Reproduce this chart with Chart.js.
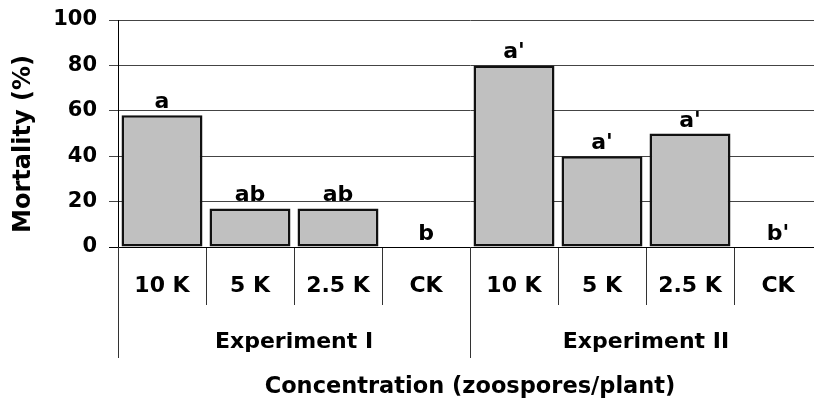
<!DOCTYPE html>
<html>
<head>
<meta charset="utf-8">
<script src="https://cdn.jsdelivr.net/npm/chart.js@4"></script>
<style>
  html, body { margin: 0; padding: 0; overflow: hidden; background: #fff; }
  #wrap { width: 822px; height: 409px; }
</style>
</head>
<body>
<div id="wrap"><canvas id="grafico" width="822" height="409"></canvas></div>
<script>
// Dados do gráfico
const categorias = ['10 K', '5 K', '2.5 K', 'CK', '10 K', '5 K', '2.5 K', 'CK'];
const mortalidade = [58, 17, 17, 0, 80, 40, 50, 0];
const letras = ['a', 'ab', 'ab', 'b', "a'", "a'", "a'", "b'"];
const grupos = ['Experiment I', 'Experiment II'];
const porGrupo = 4;
const ticksY = [0, 20, 40, 60, 80, 100];

const fonte = "'DejaVu Sans', sans-serif";

// Plugin para letras, separadores de grupo e título do eixo Y
const extras = {
    id: 'extras',
    afterDatasetsDraw(chart) {
        const ctx = chart.ctx;
        const x = chart.scales.x;
        const meta = chart.getDatasetMeta(0);
        ctx.save();
        ctx.fillStyle = '#000';
        ctx.font = `bold 22px ${fonte}`;
        ctx.textAlign = 'center';
        ctx.textBaseline = 'alphabetic';
        meta.data.forEach((bar, i) => {
            ctx.fillText(letras[i], bar.x, bar.y - 7);
        });

        // linhas que separam os grupos
        const meia = (x.getPixelForTick(1) - x.getPixelForTick(0)) / 2;
        ctx.strokeStyle = '#333';
        ctx.lineWidth = 1;
        for (let g = 0; g <= grupos.length; g++) {
            const px = Math.round(x.getPixelForTick(g * porGrupo) - meia) + 0.5;
            ctx.beginPath();
            ctx.moveTo(px, x.top);
            ctx.lineTo(px, 358);
            ctx.stroke();
        }
        ctx.textBaseline = 'middle';
        grupos.forEach((nome, g) => {
            const a = x.getPixelForTick(g * porGrupo);
            const b = x.getPixelForTick(g * porGrupo + porGrupo - 1);
            ctx.fillText(nome, (a + b) / 2, 342);
        });

        // título do eixo Y
        ctx.font = `bold 24px ${fonte}`;
        ctx.translate(24, 144);
        ctx.rotate(-Math.PI / 2);
        ctx.fillText('Mortality (%)', 0, 0);
        ctx.restore();
    }
};

const ctx1 = document.getElementById('grafico').getContext('2d');
const grafico = new Chart(ctx1, {
    type: 'bar',
    data: {
        labels: categorias,
        datasets: [{
            label: 'Mortality',
            data: mortalidade,
            backgroundColor: '#c0c0c0',
            borderColor: '#111',
            borderWidth: 2.5,
            borderSkipped: false,
            categoryPercentage: 1,
            barPercentage: 0.92
        }]
    },
    options: {
        responsive: false,
        animation: false,
        layout: { padding: { top: 20, right: 0, left: 0, bottom: 0 } },
        plugins: { legend: { display: false }, tooltip: { enabled: false } },
        scales: {
            x: {
                grid: {
                    drawOnChartArea: false,
                    tickLength: 58,
                    color: '#333'
                },
                border: { color: '#000', width: 1 },
                ticks: {
                    color: '#000',
                    font: { family: fonte, weight: 'bold', size: 22 },
                    padding: -32,
                    maxRotation: 0
                },
                title: {
                    display: true,
                    text: 'Concentration (zoospores/plant)',
                    color: '#000',
                    font: { family: fonte, weight: 'bold', size: 22.5 },
                    padding: { top: 0, bottom: 8 }
                },
                afterFit(scale) { scale.height = 162; }
            },
            y: {
                min: 0,
                max: 100,
                afterBuildTicks(scale) { scale.ticks = ticksY.map(v => ({ value: v })); },
                grid: {
                    tickLength: 9,
                    color: c => c.tick && c.tick.value === 0 ? '#000' : '#444'
                },
                border: { color: '#000', width: 1 },
                ticks: {
                    color: '#000',
                    font: { family: fonte, weight: 'bold', size: 21 },
                    padding: 12
                },
                afterFit(scale) {
                    scale.width = 118;
                    scale.paddingTop = 0;
                    scale.paddingBottom = 0;
                }
            }
        }
    },
    plugins: [extras]
});
</script>
</body>
</html>
